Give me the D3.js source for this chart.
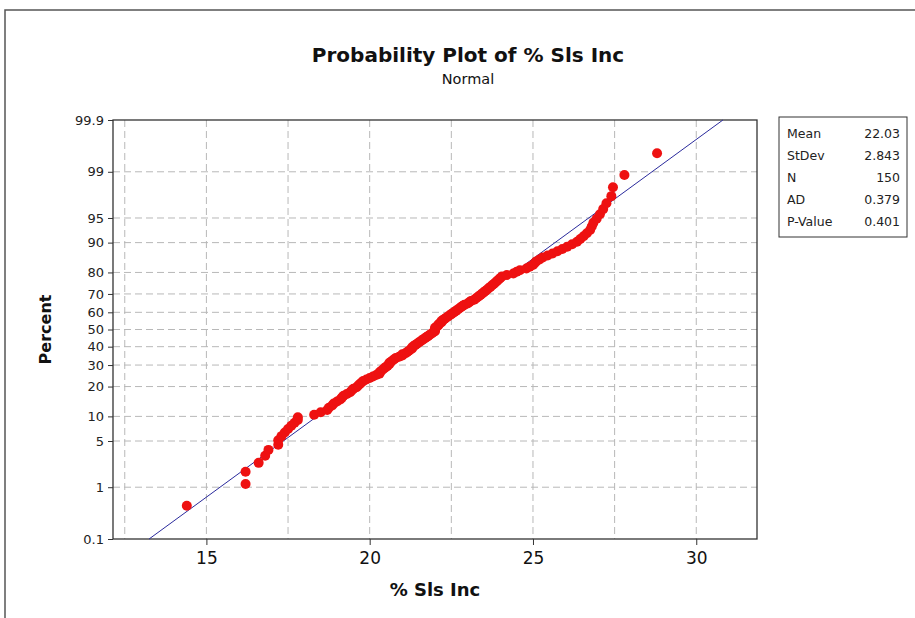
<!DOCTYPE html>
<html><head><meta charset="utf-8">
<script src="https://cdn.jsdelivr.net/npm/d3@7"></script>
<style>body{margin:0;background:#fff} svg{display:block}</style>
</head><body>
<svg id="chart" width="915" height="618"></svg>
<script>
const values = [
 14.4, 16.2, 16.2, 16.6, 16.8, 16.9, 17.2, 17.2, 17.3, 17.4,
 17.5, 17.6, 17.7, 17.8, 17.8, 18.3, 18.5, 18.7, 18.75, 18.85,
 18.9, 19.0, 19.1, 19.15, 19.2, 19.3, 19.4, 19.45, 19.5, 19.6,
 19.65, 19.7, 19.75, 19.8, 19.9, 20.0, 20.1, 20.2, 20.3, 20.3,
 20.35, 20.4, 20.45, 20.5, 20.55, 20.6, 20.6, 20.65, 20.7, 20.75,
 20.8, 20.9, 21.0, 21.0, 21.1, 21.15, 21.2, 21.25, 21.3, 21.3,
 21.35, 21.4, 21.45, 21.5, 21.55, 21.6, 21.65, 21.7, 21.75, 21.8,
 21.85, 21.9, 21.95, 22.0, 22.0,
 22.0, 22.0, 22.05, 22.1, 22.1, 22.15, 22.2, 22.2, 22.25, 22.3,
 22.35, 22.4, 22.45, 22.5, 22.55, 22.6, 22.65, 22.7, 22.75, 22.8,
 22.85, 22.9, 23.0, 23.05, 23.1, 23.2, 23.25, 23.3, 23.35, 23.4,
 23.45, 23.5, 23.55, 23.6, 23.65, 23.7, 23.75, 23.8, 23.85, 23.9,
 23.95, 24.0, 24.05, 24.2, 24.4, 24.5, 24.6, 24.8, 24.9, 25.0,
 25.05, 25.1, 25.2, 25.3, 25.45, 25.6, 25.75, 25.9, 26.05, 26.2,
 26.35, 26.45, 26.55, 26.65, 26.75, 26.8, 26.85, 26.95, 27.05, 27.15,
 27.25, 27.4, 27.45, 27.8, 28.8
];
const percentTicks = [0.1, 1, 5, 10, 20, 30, 40, 50, 60, 70, 80, 90, 95, 99, 99.9];
const percentLabels = ["0.1","1","5","10","20","30","40","50","60","70","80","90","95","99","99.9"];
const percentGrid = [1, 5, 10, 20, 30, 40, 50, 60, 70, 80, 90, 95, 99];
const xTicks = [15, 20, 25, 30];
const xGrid = [12.5, 15, 17.5, 20, 22.5, 25, 27.5, 30];
const statLabels = ["Mean", "StDev", "N", "AD", "P-Value"];
const statValues = ["22.03", "2.843", "150", "0.379", "0.401"];
const fitMean = 22.03, fitSd = 2.843;
const titleText = "Probability Plot of % Sls Inc";
const subtitleText = "Normal";
const xLabel = "% Sls Inc";
const yLabel = "Percent";

// inverse standard normal (Acklam)
function probit(p){
 const a=[-3.969683028665376e+01,2.209460984245205e+02,-2.759285104469687e+02,1.383577518672690e+02,-3.066479806614716e+01,2.506628277459239e+00];
 const b=[-5.447609879822406e+01,1.615858368580409e+02,-1.556989798598866e+02,6.680131188771972e+01,-1.328068155288572e+01];
 const c=[-7.784894002430293e-03,-3.223964580411365e-01,-2.400758277161838e+00,-2.549732539343734e+00,4.374664141464968e+00,2.938163982698783e+00];
 const d=[7.784695709041462e-03,3.224671290700398e-01,2.445134137142996e+00,3.754408661907416e+00];
 const pl=0.02425, ph=1-pl; let q,r;
 if(p<pl){q=Math.sqrt(-2*Math.log(p));return (((((c[0]*q+c[1])*q+c[2])*q+c[3])*q+c[4])*q+c[5])/((((d[0]*q+d[1])*q+d[2])*q+d[3])*q+1);}
 if(p<=ph){q=p-0.5;r=q*q;return (((((a[0]*r+a[1])*r+a[2])*r+a[3])*r+a[4])*r+a[5])*q/(((((b[0]*r+b[1])*r+b[2])*r+b[3])*r+b[4])*r+1);}
 q=Math.sqrt(-2*Math.log(1-p));return -(((((c[0]*q+c[1])*q+c[2])*q+c[3])*q+c[4])*q+c[5])/((((d[0]*q+d[1])*q+d[2])*q+d[3])*q+1);
}

const svg = d3.select("#chart");
const L = 113, R = 757, T = 120, B = 539;
const font = "'DejaVu Sans', Tahoma, sans-serif";

const x = d3.scaleLinear().domain([12.14, 31.86]).range([L, R]);
const yz = d3.scaleLinear().domain([probit(0.001), probit(0.999)]).range([B, T]);
const yPct = p => yz(probit(p / 100));

// outer frame
svg.append("rect").attr("x", 5).attr("y", 10).attr("width", 1000).attr("height", 1000)
  .attr("fill", "none").attr("stroke", "#555").attr("stroke-width", 1.5);

// title
svg.append("text").attr("x", 468).attr("y", 62).attr("text-anchor", "middle")
  .attr("font-family", font).attr("font-weight", "bold").attr("font-size", 20)
  .attr("fill", "#111").text(titleText);
svg.append("text").attr("x", 468).attr("y", 84).attr("text-anchor", "middle")
  .attr("font-family", font).attr("font-size", 14.5).attr("fill", "#111").text(subtitleText);

// grid
const grid = svg.append("g").attr("stroke", "#b8b8b8").attr("stroke-width", 1).attr("stroke-dasharray", "7,4");
grid.selectAll("line.v").data(xGrid).join("line")
  .attr("x1", d => x(d)).attr("x2", d => x(d)).attr("y1", T).attr("y2", B);
grid.selectAll("line.h").data(percentGrid).join("line")
  .attr("x1", L).attr("x2", R).attr("y1", d => yPct(d)).attr("y2", d => yPct(d));

// axes
const xAxis = svg.append("g").attr("transform", `translate(0,${B})`)
  .call(d3.axisBottom(x).tickValues(xTicks).tickSize(6).tickPadding(7).tickFormat(d3.format("d")));
xAxis.select(".domain").remove();
xAxis.selectAll("line").attr("stroke", "#333");
xAxis.selectAll("text").attr("font-family", font).attr("font-size", 17).attr("fill", "#111");

const yAxis = svg.append("g").attr("transform", `translate(${L},0)`)
  .call(d3.axisLeft(yz).tickValues(percentTicks.map(p => probit(p / 100)))
    .tickFormat((d, i) => percentLabels[i]).tickSize(5).tickPadding(4));
yAxis.select(".domain").remove();
yAxis.selectAll("line").attr("stroke", "#333");
yAxis.selectAll("text").attr("font-family", font).attr("font-size", 13).attr("fill", "#222");

// plot frame
svg.append("rect").attr("x", L).attr("y", T).attr("width", R - L).attr("height", B - T)
  .attr("fill", "none").attr("stroke", "#333").attr("stroke-width", 1.3);

// axis labels
svg.append("text").attr("x", (L + R) / 2).attr("y", 596).attr("text-anchor", "middle")
  .attr("font-family", font).attr("font-weight", "bold").attr("font-size", 18)
  .attr("fill", "#111").text(xLabel);
svg.append("text").attr("transform", `translate(51,${(T + B) / 2}) rotate(-90)`)
  .attr("text-anchor", "middle").attr("font-family", font).attr("font-weight", "bold")
  .attr("font-size", 16).attr("fill", "#111").text(yLabel);

// fitted line
const zr = yz.domain();
const fit = zr.map(z => ({ v: fitMean + fitSd * z, z }));
svg.append("path").datum(fit)
  .attr("d", d3.line().x(d => x(d.v)).y(d => yz(d.z)))
  .attr("fill", "none").attr("stroke", "#2a2a9c").attr("stroke-width", 1);

// points
const sorted = values.slice().sort(d3.ascending);
const n = sorted.length;
const pts = sorted.map((v, i) => ({ v, p: (i + 1 - 0.3) / (n + 0.4) }));
svg.append("g").selectAll("circle").data(pts).join("circle")
  .attr("cx", d => x(d.v)).attr("cy", d => yz(probit(d.p))).attr("r", 5)
  .attr("fill", "#ee1111");

// stats box
const bx = 779, by = 117, bw = 128, bh = 120;
svg.append("rect").attr("x", bx).attr("y", by).attr("width", bw).attr("height", bh)
  .attr("fill", "#fff").attr("stroke", "#333").attr("stroke-width", 1);
const rows = svg.append("g").attr("font-family", font).attr("font-size", 12.5).attr("fill", "#222");
statLabels.forEach((lab, i) => {
  const yy = by + 21 + i * 22;
  rows.append("text").attr("x", bx + 8).attr("y", yy).text(lab);
  rows.append("text").attr("x", bx + bw - 7).attr("y", yy).attr("text-anchor", "end").text(statValues[i]);
});
</script>
</body></html>
